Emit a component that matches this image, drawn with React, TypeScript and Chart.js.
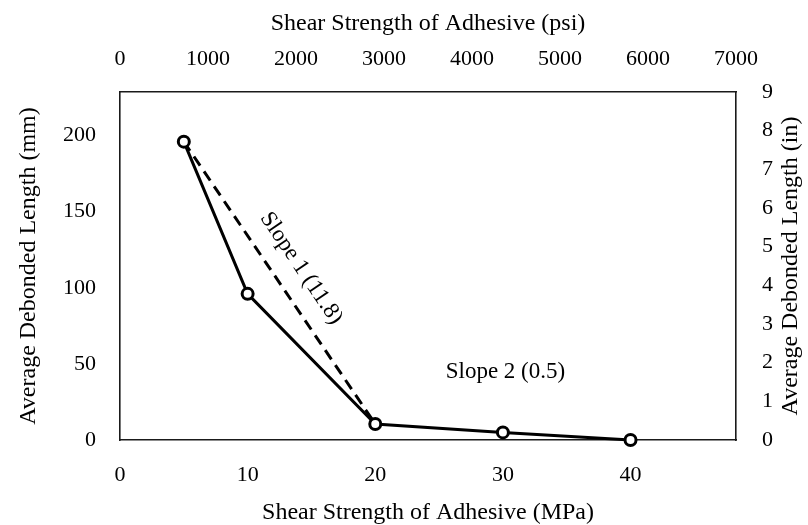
import React, { useEffect, useRef } from "react";
import { Chart, registerables } from "chart.js";

Chart.register(...registerables);

// ---- data ----
const strengthMPa = [5, 10, 20, 30, 40];
const debondedMm = [196, 96, 10.5, 5, 0];
const slope1MPa = [5, 20];
const slope1Mm = [196, 10.5];

const mpaTicks = [0, 10, 20, 30, 40];
const psiTicks = [0, 1000, 2000, 3000, 4000, 5000, 6000, 7000];
const mmTicks = [0, 50, 100, 150, 200];
const inTicks = [0, 1, 2, 3, 4, 5, 6, 7, 8, 9];

const PSI_MAX = 7000;
const IN_MAX = 9;
const MPA_MAX = PSI_MAX / 145.038;
const MM_MAX = IN_MAX * 25.4;

const RIGHT_TITLE = "Average Debonded Length (in)";

const annotations = [
  { text: "Slope 1 (11.8)", x: 14.2, y: 112.8, angle: 56 },
  { text: "Slope 2 (0.5)", x: 30.2, y: 44.9, angle: 0 },
];

const FONT = "'Liberation Serif', 'Times New Roman', serif";
const INK = "#000000";

const annotationPlugin = {
  id: "slopeLabels",
  afterDatasetsDraw(chart: any) {
    const { ctx, scales } = chart;
    ctx.save();
    ctx.fillStyle = INK;
    ctx.font = `23px ${FONT}`;
    ctx.textAlign = "center";
    ctx.textBaseline = "middle";
    for (const a of annotations) {
      const px = scales.x.getPixelForValue(a.x);
      const py = scales.y.getPixelForValue(a.y);
      ctx.save();
      ctx.translate(px, py);
      ctx.rotate((a.angle * Math.PI) / 180);
      ctx.fillText(a.text, 0, 0);
      ctx.restore();
    }
    ctx.restore();
  },
  afterDraw(chart: any) {
    // right axis title, reading bottom-to-top like the left one
    const { ctx, chartArea, width } = chart;
    ctx.save();
    ctx.fillStyle = INK;
    ctx.font = `24px ${FONT}`;
    ctx.textAlign = "center";
    ctx.textBaseline = "middle";
    ctx.translate(width - 17, (chartArea.top + chartArea.bottom) / 2);
    ctx.rotate(-Math.PI / 2);
    ctx.fillText(RIGHT_TITLE, 0, 0);
    ctx.restore();
  },
};

function fixedTicks(values: number[]) {
  return (scale: any) => {
    scale.ticks = values.map((v) => ({ value: v }));
  };
}

const plain = (v: any) => String(v);

export default function App() {
  const ref = useRef<HTMLCanvasElement | null>(null);

  useEffect(() => {
    if (!ref.current) return;
    const tickFont = { family: FONT, size: 22 };
    const titleFont = { family: FONT, size: 24, lineHeight: 1 };
    const border = { display: true, color: "#1a1a1a", width: 1.6 };
    const chart = new Chart(ref.current, {
      type: "line",
      data: {
        datasets: [
          {
            data: strengthMPa.map((x, i) => ({ x, y: debondedMm[i] })),
            borderColor: INK,
            borderWidth: 3,
            pointRadius: 5.5,
            pointBorderWidth: 3,
            pointBorderColor: INK,
            pointBackgroundColor: "#ffffff",
            tension: 0,
            clip: false as any,
            xAxisID: "x",
            yAxisID: "y",
            order: 0,
          },
          {
            data: slope1MPa.map((x, i) => ({ x, y: slope1Mm[i] })),
            borderColor: INK,
            borderWidth: 3,
            borderDash: [11, 7],
            pointRadius: 0,
            tension: 0,
            xAxisID: "x",
            yAxisID: "y",
            order: 1,
          },
        ],
      },
      options: {
        animation: false,
        responsive: false,
        layout: { padding: 0 },
        plugins: { legend: { display: false }, tooltip: { enabled: false } },
        scales: {
          x: {
            type: "linear",
            position: "bottom",
            min: 0,
            max: MPA_MAX,
            afterBuildTicks: fixedTicks(mpaTicks),
            afterFit: (s: any) => { s.height = 85; },
            grid: { display: false, drawTicks: false },
            border,
            ticks: { font: tickFont, color: INK, padding: 22, maxRotation: 0, callback: plain },
            title: { display: true, text: "Shear Strength of Adhesive (MPa)", font: titleFont, color: INK, padding: { top: 0, bottom: 0 } },
          },
          x2: {
            type: "linear",
            position: "top",
            min: 0,
            max: PSI_MAX,
            afterBuildTicks: fixedTicks(psiTicks),
            afterFit: (s: any) => { s.height = 92; },
            grid: { display: false, drawTicks: false },
            border,
            ticks: { font: tickFont, color: INK, padding: 20, maxRotation: 0, callback: plain },
            title: { display: true, text: "Shear Strength of Adhesive (psi)", font: titleFont, color: INK, padding: { top: 12, bottom: 0 } },
          },
          y: {
            type: "linear",
            position: "left",
            min: 0,
            max: MM_MAX,
            afterBuildTicks: fixedTicks(mmTicks),
            afterFit: (s: any) => { s.width = 120; },
            grid: { display: false, drawTicks: false },
            border,
            ticks: { font: tickFont, color: INK, padding: 24, callback: plain },
            title: { display: true, text: "Average Debonded Length (mm)", font: titleFont, color: INK, padding: { top: 17, bottom: 0 } },
          },
          y2: {
            type: "linear",
            position: "right",
            min: 0,
            max: IN_MAX,
            afterBuildTicks: fixedTicks(inTicks),
            afterFit: (s: any) => { s.width = 72; },
            grid: { display: false, drawTicks: false },
            border,
            ticks: { font: tickFont, color: INK, padding: 26, callback: plain },
            title: { display: false },
          },
        },
      } as any,
      plugins: [annotationPlugin],
    });
    return () => chart.destroy();
  }, []);

  return (
    <div style={{ position: "fixed", left: 0, top: 0, width: 808, height: 525, background: "#ffffff" }}>
      <canvas ref={ref} width={808} height={525} style={{ display: "block" }} />
    </div>
  );
}
